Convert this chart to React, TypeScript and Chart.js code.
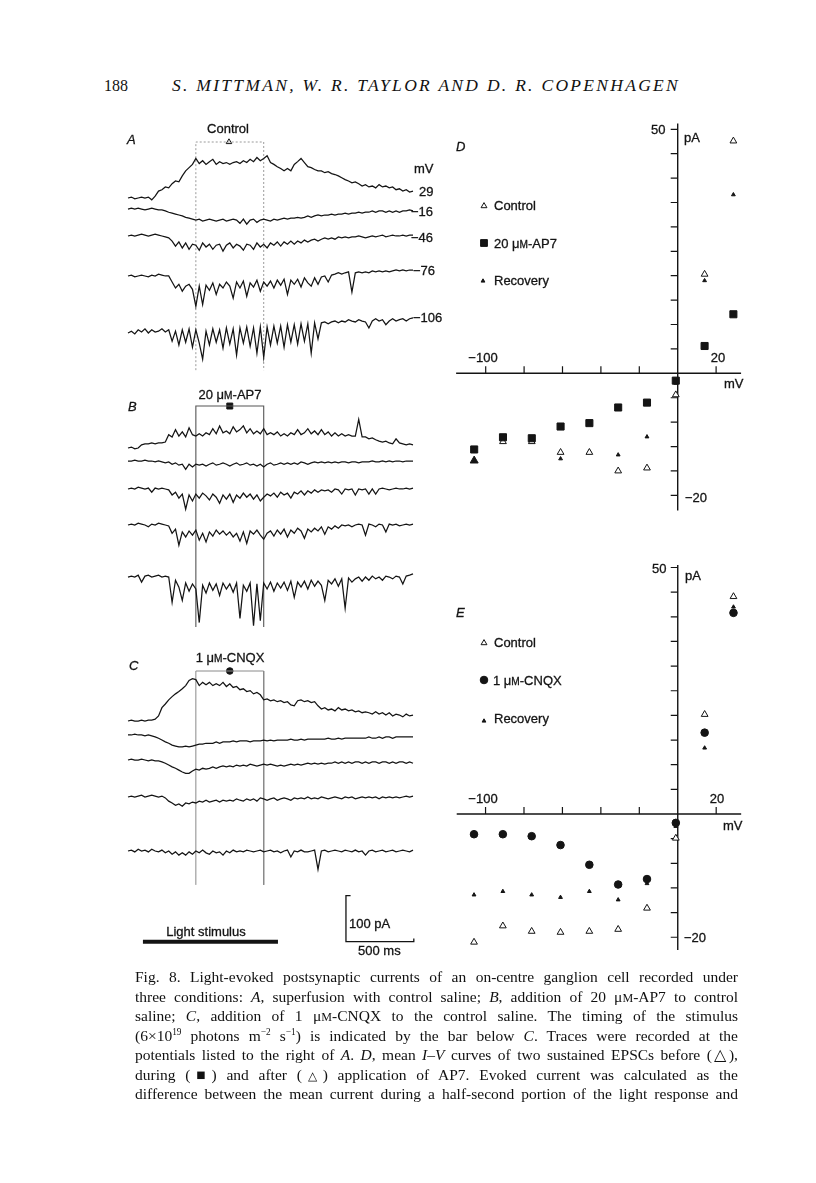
import React, { useEffect, useRef } from "react";
import { Chart, registerables } from "chart.js";
Chart.register(...registerables);

// ---------------- DATA ----------------
// Traces: current (pA) relative to the holding current, sampled evenly over the sweep
const SWEEP_MS = 2100;
const WINDOW_MS = [500, 1000];
const LIGHT_MS = [110, 1105];
const SCALE_BAR_MS = 500;
const SCALE_BAR_PA = 100;
const HOLDING_MV = ["29", "−16", "−46", "−76", "−106"];

const A_29 = [0,2,-2,0,2,0,2,-4,4,15,18,24,22,31,37,35,48,59,66,73,86,75,81,73,79,84,73,79,75,77,73,77,79,75,81,77,84,79,88,81,86,92,77,73,68,64,59,64,59,73,79,86,77,68,66,62,59,59,55,57,53,51,48,44,40,37,33,35,31,26,29,24,26,22,29,24,26,22,24,18,20,15,18,13,15];
const A_M16 = [0,2,0,2,0,-2,0,2,0,-2,-2,-4,-7,-9,-11,-13,-15,-18,-20,-22,-24,-22,-26,-24,-22,-24,-26,-24,-22,-26,-24,-22,-24,-31,-22,-33,-24,-22,-29,-24,-22,-24,-26,-22,-24,-22,-20,-22,-20,-20,-18,-20,-18,-15,-18,-15,-13,-15,-13,-13,-11,-13,-11,-11,-9,-11,-9,-9,-7,-9,-7,-7,-4,-7,-4,-4,-7,-4,-7,-4,-7,-4,-4,-2,-4];
const A_M46 = [0,2,0,2,4,2,0,2,4,2,0,-2,-4,-11,-22,-13,-26,-15,-29,-18,-20,-31,-15,-24,-18,-29,-20,-18,-33,-20,-15,-26,-18,-22,-31,-18,-20,-29,-15,-24,-18,-26,-15,-20,-13,-22,-13,-18,-11,-18,-11,-15,-9,-13,-9,-7,-11,-7,-4,-7,-4,-7,-2,-4,-2,-4,-2,-2,0,-2,-4,-2,0,-2,0,2,-2,0,2,0,0,2,0,2,2];
const A_M76 = [0,2,-2,0,2,0,-2,2,0,4,2,0,0,-13,-26,-18,-33,-22,-18,-29,-66,-22,-62,-20,-31,-15,-40,-18,-26,-13,-22,-48,-13,-26,-11,-44,-15,-24,-9,-33,-13,-22,-11,-26,-9,-20,-7,-40,-9,-18,-7,-24,-4,-15,-22,-4,-18,-2,0,-13,2,4,7,4,7,9,-35,7,9,7,9,7,11,9,11,9,11,9,11,13,11,13,11,13,13];
const A_M106 = [0,4,-2,7,2,9,0,7,2,4,9,2,7,-18,4,-26,7,-20,9,-31,7,-22,-57,4,-26,9,-20,7,-33,11,-24,9,-48,11,-22,13,-29,11,-44,13,-53,13,-26,15,-22,15,-31,18,-20,18,-24,20,-18,20,-44,22,-13,22,24,20,24,26,22,26,24,29,26,24,29,26,24,11,26,31,26,29,18,26,31,26,29,31,26,31,33];

const B_29 = [0,2,-2,0,7,9,9,11,9,11,11,13,29,24,40,26,35,24,44,29,26,31,26,33,29,42,31,48,33,37,31,46,35,40,48,33,42,31,37,31,42,29,33,29,35,26,31,26,33,29,40,29,33,42,31,37,29,40,29,35,26,33,26,31,26,29,26,26,62,24,24,20,22,18,15,13,15,11,9,20,11,9,7,9,7];
const B_M16 = [0,0,2,0,0,2,0,0,-2,0,-2,-4,-2,-7,-4,-9,-7,-18,-7,-13,-7,-9,-7,-11,-7,-4,-9,-7,-4,-7,-11,-7,-4,-9,-7,-4,-9,-7,-11,-7,-13,-7,-4,-9,-7,-4,-7,-4,-7,-4,-7,-2,-4,-7,-4,-2,-4,-2,-4,-2,-4,-2,-4,-2,-2,-4,-2,-2,-4,-2,-2,-2,0,-2,-2,0,-2,0,-2,0,0,-2,0,0,0];
const B_M46 = [0,2,0,4,2,0,2,-7,2,0,2,0,-2,-13,-7,-20,-11,-44,-13,-26,-11,-20,-9,-15,-24,-11,-18,-31,-13,-22,-11,-29,-13,-20,-9,-18,-11,-22,-13,-26,-18,-11,-15,-9,-18,-7,-13,-9,-20,-7,-11,-4,-13,-4,-9,-2,-7,-2,-4,-2,-7,0,-2,-11,0,-2,0,-13,0,-2,0,-11,0,-11,0,2,0,-2,0,2,0,0,2,0,2];
const B_M76 = [0,2,0,4,2,0,-4,2,0,4,2,0,-2,-18,-9,-44,-15,-26,-13,-22,-11,-33,-18,-37,-15,-24,-11,-20,-13,-22,-15,-26,-18,-35,-15,-40,-13,-20,-11,-22,-31,-18,-13,-24,-11,-20,-9,-26,-11,-18,-7,-13,-29,-9,-15,-7,-13,-4,-20,-4,-9,-2,-7,0,-2,0,-4,0,2,0,-22,2,0,-4,2,0,-15,2,0,2,-2,0,2,0,2];
const B_M106 = [0,2,0,4,-11,2,4,0,2,4,0,2,0,-55,-7,-22,-51,-13,-31,-15,-26,-99,-18,-35,-13,-29,-15,-40,-13,-26,-15,-33,-13,-90,-18,-31,-13,-106,-15,-95,-13,-26,-11,-31,-13,-24,-11,-29,-9,-44,-11,-22,-9,-26,-7,-20,-9,-18,-51,-7,-15,-4,-20,-4,-68,-2,-11,-4,0,-9,0,-7,2,-4,0,-7,2,0,-4,2,0,-15,2,4,7];

const C_29 = [0,2,0,0,2,0,2,2,4,11,29,37,46,53,59,64,70,77,88,92,90,77,84,79,84,77,81,77,84,75,81,73,75,68,70,64,66,59,62,57,46,48,44,46,42,44,40,42,35,33,44,46,42,44,40,42,33,26,29,24,26,22,29,24,26,22,24,20,22,18,20,18,15,20,15,18,13,18,11,15,13,9,15,11,13];
const C_M16 = [0,0,2,0,0,-2,0,-2,-4,-7,-11,-15,-18,-22,-24,-26,-26,-24,-26,-24,-22,-20,-20,-18,-18,-18,-15,-18,-15,-15,-15,-13,-15,-13,-13,-13,-15,-13,-13,-13,-11,-13,-11,-13,-11,-11,-11,-11,-9,-11,-11,-9,-11,-9,-9,-9,-9,-9,-9,-7,-9,-9,-7,-9,-7,-7,-7,-7,-7,-7,-7,-4,-7,-7,-4,-7,-4,-4,-7,-4,-4,-4,-4,-4,-4];
const C_M46 = [0,2,0,0,2,0,-2,0,-2,-2,-4,-7,-11,-15,-18,-22,-26,-29,-29,-24,-20,-22,-18,-20,-18,-15,-18,-15,-13,-15,-13,-15,-11,-13,-11,-13,-9,-11,-13,-11,-9,-11,-9,-11,-13,-11,-13,-11,-9,-11,-9,-11,-9,-7,-9,-7,-9,-7,-9,-7,-7,-4,-7,-4,-7,-4,-7,-4,-4,-7,-4,-7,-4,-4,-7,-4,-4,-7,-4,-7,-4,-4,-7,-4,-7];
const C_M76 = [0,2,0,2,4,0,2,4,2,0,2,-2,-9,-13,-18,-15,-20,-13,-15,-11,-13,-9,-11,-7,-11,-9,-7,-11,-7,-9,-7,-9,-4,-7,-9,-4,-7,-4,-9,-2,-4,-7,-4,-2,-7,-4,-2,-4,-7,-2,-4,-2,-4,0,-4,-2,-4,0,-2,-4,-2,0,-2,-4,0,-2,0,-4,-2,0,-2,0,-2,0,-4,0,-2,0,-2,0,-2,0,2,0,2];
const C_M106 = [0,2,-2,4,0,2,-2,4,0,-2,2,-4,0,-7,-2,-9,-4,-9,-2,-7,0,-4,2,-4,-7,0,-4,-2,-9,0,-4,2,-2,0,-2,2,0,-2,0,2,-2,0,2,-2,0,-4,0,2,-13,0,-2,2,-2,-2,0,2,-40,0,2,-2,0,2,0,-2,2,0,-2,2,-2,0,-9,0,2,-2,0,2,-2,0,2,-2,0,2,0,-2,2];

// I-V curves (mV, pA)
const IV_MV = [29, 14, -1, -16, -31, -46, -61, -76, -91, -106];
const D_CONTROL = [47.6, 20.3, -4.4, -19.4, -20.0, -16.2, -16.2, -14.0, -14.0, null];
const D_AP7 = [12.1, 5.6, -1.5, -6.0, -7.0, -10.2, -10.9, -13.3, -13.1, -15.6];
const D_RECOVERY = [36.6, 19.0, -2.0, -13.0, -16.7, -16.0, -17.5, -14.0, -14.0, -17.9];
const E_CONTROL = [44.1, 20.2, -4.9, -19.1, -23.4, -23.8, -24.0, -23.8, -22.7, -26.0];
const E_CNQX = [40.8, 16.5, -1.8, -13.2, -14.3, -10.3, -6.3, -4.5, -4.1, -4.1];
const E_RECOVERY = [42.0, 13.4, -2.5, -14.1, -17.4, -15.7, -16.9, -16.4, -15.7, -16.4];
const IV_X_TICKS = [-100, -80, -60, -40, -20, 20];
const IV_Y_TICKS = [50, 45, 40, 35, 30, 25, 20, 15, 10, 5, -5, -10, -15, -20, -25];

// ---------------- LAYOUT ----------------
const INK = "#141414";
const TRACE_OFFSETS = [1678.3, 1654.3, 1595.7, 1508.7, 1384.8, 1134.8, 1106.5, 1045.7, 967.4, 854.3, 541.3, 510.9, 456.5, 376.1, 258.7];
const TRACES = [A_29, A_M16, A_M46, A_M76, A_M106, B_29, B_M16, B_M46, B_M76, B_M106, C_29, C_M16, C_M46, C_M76, C_M106];

function traceData(vals: number[], off: number) {
  const dt = SWEEP_MS / (vals.length - 1);
  return vals.map((v, i) => ({ x: i * dt, y: v + off }));
}

function drawMarker(ctx: CanvasRenderingContext2D, kind: string, x: number, y: number, r: number, filled: boolean) {
  ctx.beginPath();
  if (kind === "triangle") {
    ctx.moveTo(x, y - r);
    ctx.lineTo(x + r * 0.866, y + r * 0.5);
    ctx.lineTo(x - r * 0.866, y + r * 0.5);
    ctx.closePath();
  } else if (kind === "rect") {
    const h = r * Math.SQRT1_2;
    ctx.rect(x - h, y - h, 2 * h, 2 * h);
  } else {
    ctx.arc(x, y, r, 0, Math.PI * 2);
  }
  ctx.fillStyle = filled ? INK : "#fff";
  ctx.fill();
  ctx.lineWidth = 1;
  ctx.strokeStyle = INK;
  ctx.stroke();
}

function ivPlugin(axis: { xMin: number; xMax: number; yMin: number; yMax: number }, legend: { kind: string; r: number; filled: boolean; x: number; y: number }[]) {
  return {
    id: "ivAxes",
    beforeDatasetsDraw(chart: any) {
      const { ctx, scales } = chart;
      const xs = scales.x, ys = scales.y;
      const x0 = xs.getPixelForValue(0), y0 = ys.getPixelForValue(0);
      ctx.save();
      ctx.strokeStyle = INK;
      ctx.lineWidth = 1.4;
      ctx.beginPath();
      ctx.moveTo(xs.getPixelForValue(axis.xMin), y0);
      ctx.lineTo(xs.getPixelForValue(axis.xMax), y0);
      ctx.moveTo(x0, ys.getPixelForValue(axis.yMax));
      ctx.lineTo(x0, ys.getPixelForValue(axis.yMin));
      ctx.stroke();
      ctx.lineWidth = 1.2;
      ctx.beginPath();
      IV_X_TICKS.forEach((v) => {
        const px = xs.getPixelForValue(v);
        ctx.moveTo(px, y0);
        ctx.lineTo(px, y0 - 7);
      });
      IV_Y_TICKS.forEach((v) => {
        const py = ys.getPixelForValue(v);
        ctx.moveTo(x0 - 7, py);
        ctx.lineTo(x0, py);
      });
      ctx.stroke();
      legend.forEach((l) => drawMarker(ctx, l.kind, l.x, l.y, l.r, l.filled));
      ctx.restore();
    },
  };
}

const baseOptions = (xMin: number, xMax: number, yMin: number, yMax: number) => ({
  responsive: false,
  maintainAspectRatio: false,
  animation: false as const,
  devicePixelRatio: 1,
  events: [],
  layout: { padding: 0, autoPadding: false },
  plugins: { legend: { display: false }, tooltip: { enabled: false } },
  scales: {
    x: { type: "linear" as const, display: false, min: xMin, max: xMax },
    y: { type: "linear" as const, display: false, min: yMin, max: yMax },
  },
});

const SANS = '"Liberation Sans", Arial, Helvetica, sans-serif';
const SERIF = '"Liberation Serif", "Times New Roman", serif';

function L({ x, y, children, center, size = 13, italic, w }: any) {
  return (
    <div
      style={{
        position: "absolute",
        left: center ? x - 100 : x,
        top: y,
        width: center ? 200 : w,
        textAlign: center ? "center" : "left",
        fontFamily: SANS,
        fontSize: size,
        lineHeight: "1",
        fontStyle: italic ? "italic" : "normal",
        color: INK,
        whiteSpace: "nowrap",
        WebkitTextStroke: "0.3px #141414",
      }}
    >
      {children}
    </div>
  );
}

const SmM = () => <span style={{ fontSize: "0.78em" }}>M</span>;
const Sup = ({ children }: any) => (
  <span style={{ fontSize: "0.6em", position: "relative", top: "-0.6em", lineHeight: 0 }}>{children}</span>
);

const HEADER_TEXT = "S. MITTMAN, W. R. TAYLOR AND D. R. COPENHAGEN";
const HEADER_WIDTH = 508;

export default function App() {
  const leftRef = useRef<HTMLCanvasElement>(null);
  const dRef = useRef<HTMLCanvasElement>(null);
  const eRef = useRef<HTMLCanvasElement>(null);
  const headRef = useRef<HTMLSpanElement>(null);

  useEffect(() => {
    if (headRef.current) {
      const el = headRef.current;
      el.style.letterSpacing = "0px";
      const w = el.getBoundingClientRect().width;
      const n = HEADER_TEXT.length;
      el.style.letterSpacing = `${(HEADER_WIDTH - w) / n}px`;
    }
    const charts: Chart[] = [];
    // ---------- traces A, B, C ----------
    const traceSets: any[] = TRACES.map((vals, k) => ({
      data: traceData(vals, TRACE_OFFSETS[k]),
      showLine: true,
      borderColor: INK,
      borderWidth: 1.25,
      pointRadius: 0,
      tension: 0,
    }));
    const seg = (pts: { x: number; y: number }[], color: string, width: number, dash: number[] = []) => ({
      data: pts,
      showLine: true,
      borderColor: color,
      borderWidth: width,
      borderDash: dash,
      pointRadius: 0,
      tension: 0,
    });
    const [w0, w1] = WINDOW_MS;
    const wins = [
      { top: 1800, bottom: 1304, color: "#9a9a9a", dash: [2, 2], width: 1 },
      { top: 1226, bottom: 745.7, color: "#555", dash: [], width: 1.1 },
      { top: 650, bottom: 185, color: "#8a8a8a", dash: [], width: 1 },
    ];
    const winSets = wins.map((w) =>
      seg([{ x: w0, y: w.bottom }, { x: w0, y: w.top }, { x: w1, y: w.top }, { x: w1, y: w.bottom }], w.color, w.width, w.dash)
    );
    const mid = (w0 + w1) / 2;
    const markerSets: any[] = [
      { data: [{ x: mid - 6, y: 1800 }], pointStyle: "triangle", pointRadius: 3.2, backgroundColor: "#fff", borderColor: INK, borderWidth: 1, showLine: false },
      { data: [{ x: mid, y: 1226 }], pointStyle: "rect", pointRadius: 4.2, backgroundColor: INK, borderColor: INK, borderWidth: 1, showLine: false },
      { data: [{ x: mid, y: 650 }], pointStyle: "circle", pointRadius: 3.3, backgroundColor: INK, borderColor: INK, borderWidth: 1, showLine: false },
    ];
    const barBase = 61.5;
    const lightSet = seg([{ x: LIGHT_MS[0], y: barBase }, { x: LIGHT_MS[1], y: barBase }], INK, 4);
    const sb0 = 1606;
    const scaleSet = seg(
      [
        { x: sb0 + 34, y: barBase + SCALE_BAR_PA },
        { x: sb0, y: barBase + SCALE_BAR_PA },
        { x: sb0, y: barBase },
        { x: sb0 + SCALE_BAR_MS, y: barBase },
        { x: sb0 + SCALE_BAR_MS, y: barBase + 7 },
      ],
      INK,
      1.3
    );
    if (leftRef.current) {
      charts.push(
        new Chart(leftRef.current, {
          type: "scatter",
          data: { datasets: [...traceSets, ...winSets, ...markerSets, lightSet, scaleSet] },
          options: baseOptions(-206.3, 2372.6, 0, 1869.57) as any,
        })
      );
    }

    const ivSets = (series: { vals: (number | null)[]; kind: string; r: number | number[]; filled: boolean }[]) =>
      series.map((s) => ({
        data: IV_MV.map((mv, i) => ({ x: mv, y: s.vals[i] })),
        showLine: false,
        pointStyle: s.kind,
        pointRadius: s.r,
        backgroundColor: s.filled ? INK : "#fff",
        borderColor: INK,
        borderWidth: 1,
      }));
    // ---------- D ----------
    if (dRef.current) {
      charts.push(
        new Chart(dRef.current, {
          type: "scatter",
          data: {
            datasets: ivSets([
              { vals: D_AP7, kind: "rect", r: 5, filled: true },
              { vals: D_CONTROL, kind: "triangle", r: 3.9, filled: false },
              { vals: D_RECOVERY, kind: "triangle", r: [2.2, 2.2, 2.2, 2.2, 2.2, 2.2, 2.2, 2.2, 2.2, 4.6], filled: true },
            ]) as any,
          },
          options: baseOptions(-123.8, 48.07, -32.1, 53.95) as any,
          plugins: [
            ivPlugin({ xMin: -115.4, xMax: 33, yMin: -28.1, yMax: 51.2 }, [
              { kind: "triangle", r: 3.4, filled: false, x: 44, y: 96 },
              { kind: "rect", r: 4.8, filled: true, x: 44, y: 133 },
              { kind: "triangle", r: 2.2, filled: true, x: 43, y: 171 },
            ]) as any,
          ],
        })
      );
    }
    // ---------- E ----------
    if (eRef.current) {
      charts.push(
        new Chart(eRef.current, {
          type: "scatter",
          data: {
            datasets: ivSets([
              { vals: E_CNQX, kind: "circle", r: 3.8, filled: true },
              { vals: E_CONTROL, kind: "triangle", r: 3.9, filled: false },
              { vals: E_RECOVERY, kind: "triangle", r: 2.2, filled: true },
            ]) as any,
          },
          options: baseOptions(-123.7, 48.0, -30.63, 52.54) as any,
          plugins: [
            ivPlugin({ xMin: -115, xMax: 33, yMin: -27.6, yMax: 50.5 }, [
              { kind: "triangle", r: 3.4, filled: false, x: 44, y: 88 },
              { kind: "circle", r: 3.8, filled: true, x: 44, y: 125 },
              { kind: "triangle", r: 2.2, filled: true, x: 44, y: 166 },
            ]) as any,
          ],
        })
      );
    }
    return () => charts.forEach((c) => c.destroy());
  }, []);

  const captionLine: React.CSSProperties = {
    position: "absolute",
    left: 135,
    width: 603,
    height: 19.5,
    fontFamily: SERIF,
    fontSize: 15.5,
    lineHeight: "19.5px",
    textAlign: "justify",
    textAlignLast: "justify",
    color: "#111",
  };
  const cap = [
    <>Fig. 8. Light-evoked postsynaptic currents of an on-centre ganglion cell recorded under</>,
    <>three conditions: <i>A</i>, superfusion with control saline; <i>B</i>, addition of 20 μ<SmM />-AP7 to control</>,
    <>saline; <i>C</i>, addition of 1 μ<SmM />-CNQX to the control saline. The timing of the stimulus</>,
    <>(6×10<Sup>19</Sup> photons m<Sup>−2</Sup> s<Sup>−1</Sup>) is indicated by the bar below <i>C</i>. Traces were recorded at the</>,
    <>potentials listed to the right of <i>A</i>. <i>D</i>, mean <i>I–V</i> curves of two sustained EPSCs before (△),</>,
    <>during (■) and after (<span style={{ fontSize: "0.8em" }}>△</span>) application of AP7. Evoked current was calculated as the</>,
    <>difference between the mean current during a half-second portion of the light response and</>,
  ];

  return (
    <div style={{ position: "absolute", left: 0, top: 0, width: 816, height: 1183, background: "#fff", overflow: "hidden" }}>
      {/* header */}
      <div style={{ position: "absolute", left: 104, top: 78, fontFamily: SERIF, fontSize: 16, lineHeight: "1", color: "#111" }}>188</div>
      <div style={{ position: "absolute", left: 172, top: 77, fontFamily: SERIF, fontSize: 17.5, lineHeight: "1", fontStyle: "italic", color: "#111", whiteSpace: "nowrap" }}>
        <span ref={headRef}>{HEADER_TEXT}</span>
      </div>

      <canvas ref={leftRef} width={350} height={860} style={{ position: "absolute", left: 100, top: 110, width: 350, height: 860 }} />
      <canvas ref={dRef} width={330} height={420} style={{ position: "absolute", left: 440, top: 110, width: 330, height: 420 }} />
      <canvas ref={eRef} width={330} height={410} style={{ position: "absolute", left: 440, top: 555, width: 330, height: 410 }} />

      {/* panel A */}
      <L x={127} y={133} italic>A</L>
      <L x={228} y={122} center>Control</L>
      <L x={414} y={162}>mV</L>
      <L x={419} y={185}>{HOLDING_MV[0]}</L>
      <L x={411} y={205}>{HOLDING_MV[1]}</L>
      <L x={411} y={231}>{HOLDING_MV[2]}</L>
      <L x={413} y={264}>{HOLDING_MV[3]}</L>
      <L x={413} y={311}>{HOLDING_MV[4]}</L>
      {/* panel B */}
      <L x={128} y={400} italic>B</L>
      <L x={230} y={388} center>20 μ<SmM />-AP7</L>
      {/* panel C */}
      <L x={129} y={659} italic>C</L>
      <L x={230} y={651} center>1 μ<SmM />-CNQX</L>
      <L x={206} y={925} center>Light stimulus</L>
      <L x={349} y={917}>100 pA</L>
      <L x={358} y={944}>500 ms</L>

      {/* panel D */}
      <L x={456} y={140} italic>D</L>
      <L x={651} y={123}>50</L>
      <L x={684} y={131}>pA</L>
      <L x={494} y={199}>Control</L>
      <L x={494} y={237}>20 μ<SmM />-AP7</L>
      <L x={494} y={274}>Recovery</L>
      <L x={483} y={351} center>−100</L>
      <L x={718} y={351} center>20</L>
      <L x={724} y={377}>mV</L>
      <L x={685} y={491}>−20</L>

      {/* panel E */}
      <L x={456} y={606} italic>E</L>
      <L x={652} y={562}>50</L>
      <L x={685} y={569}>pA</L>
      <L x={494} y={636}>Control</L>
      <L x={493} y={674}>1 μ<SmM />-CNQX</L>
      <L x={494} y={712}>Recovery</L>
      <L x={483} y={792} center>−100</L>
      <L x={717} y={792} center>20</L>
      <L x={723} y={819}>mV</L>
      <L x={684} y={931}>−20</L>

      {/* caption */}
      {cap.map((c, i) => (
        <div key={i} style={{ ...captionLine, top: 967 + i * 19.5 }}>
          {c}
        </div>
      ))}
    </div>
  );
}
